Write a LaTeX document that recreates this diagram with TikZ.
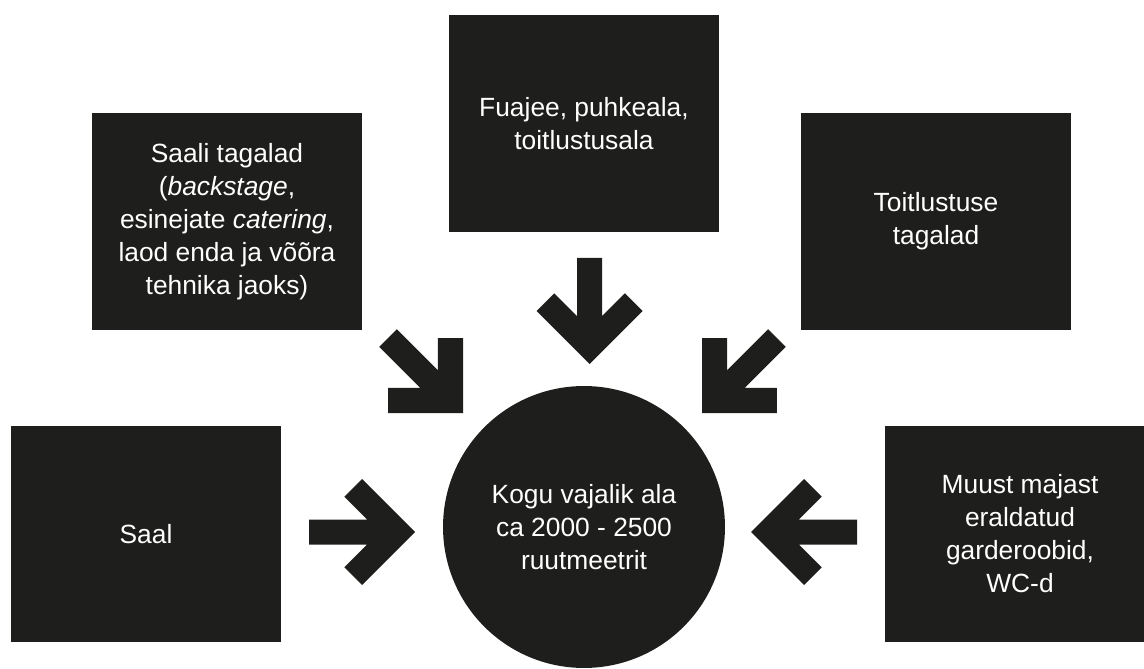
\documentclass[tikz,border=0pt]{standalone}
\usepackage{fontspec}
\setmainfont{Liberation Sans}
\usepackage{tikz}
\usepackage{xcolor}
\usetikzlibrary{positioning, shapes.geometric}
\definecolor{areadark}{RGB}{30, 30, 28}
\tikzset{
    areanode/.style={draw=none, fill=areadark, text=white, inner sep=0pt, outer sep=0pt,
        align=center, font=\fontsize{15}{18.8}\selectfont},
    roombox/.style={areanode, rectangle, minimum width=5.4cm, minimum height=4.34cm},
    totalnode/.style={areanode, circle, minimum size=5.64cm},
    fatarrow/.pic={
        \fill[areadark] (0,0) -- (-53,53) -- (-70.7,35.3) -- (-47.9,12.5) -- (-106,12.5)
            -- (-106,-12.5) -- (-47.9,-12.5) -- (-70.7,-35.3) -- (-53,-53) -- cycle;
    }
}
\begin{document}
\begin{tikzpicture}[x=0.02cm, y=-0.02cm]
                \useasboundingbox (0,0) rectangle (1144,669);

                % The total area in the middle
                \node[totalnode] (kogu) at (584,527) {Kogu vajalik ala\\ca 2000 - 2500\\ruutmeetrit};

                % The parts around it
                \node[roombox] (saal) at (146,534) {Saal};
                \node[roombox] (tagalad) at (227,221.5) {Saali tagalad\\(\textit{backstage},\\esinejate \textit{catering},\\laod enda ja võõra\\tehnika jaoks)};
                \node[roombox] (fuajee) at (584,123.5) {Fuajee, puhkeala,\\toitlustusala};
                \node[roombox] (toitlustus) at (936,221.5) {Toitlustuse\\tagalad};
                \node[roombox] (garderoob) at (1020,534) {Muust majast\\eraldatud\\garderoobid,\\WC-d};

                % Arrows pointing to the total
                \pic at (415,532) {fatarrow};
                \pic[rotate=-45] at (463,413) {fatarrow};
                \pic[rotate=-90] at (589.5,364) {fatarrow};
                \pic[rotate=-135] at (702,413) {fatarrow};
                \pic[rotate=180] at (751,532) {fatarrow};

            \end{tikzpicture}
\end{document}
